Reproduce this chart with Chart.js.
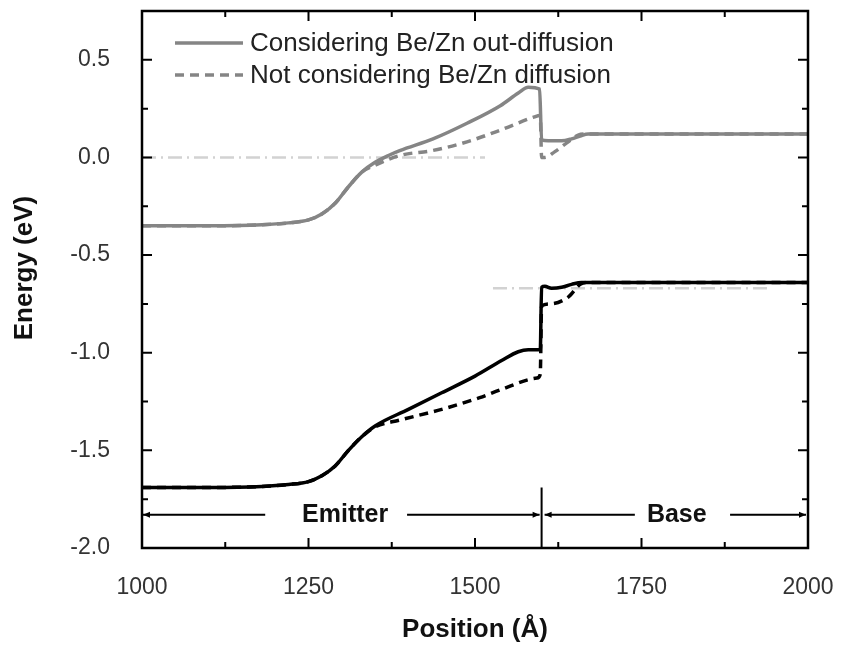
<!DOCTYPE html>
<html>
<head>
<meta charset="utf-8">
<script src="https://cdn.jsdelivr.net/npm/chart.js@4"></script>
<style>
  html, body { margin: 0; padding: 0; background: #fff; }
  #wrap { width: 844px; height: 650px; }
</style>
</head>
<body>
<div id="wrap"><canvas id="bandChart" width="844" height="650"></canvas></div>
<script>
// conduction band, Be/Zn out-diffusion considered
const cbOutX = [1000, 1100, 1180, 1220, 1250, 1270, 1290, 1310, 1330, 1350, 1370, 1387, 1437, 1488, 1538, 1565, 1580, 1597, 1600, 1610, 1630, 1645, 1658, 1670, 2000];
const cbOutY = [-0.35, -0.35, -0.345, -0.335, -0.32, -0.29, -0.235, -0.15, -0.075, -0.025, 0.01, 0.035, 0.095, 0.175, 0.265, 0.33, 0.36, 0.35, 0.09, 0.085, 0.085, 0.095, 0.11, 0.12, 0.12];
// conduction band, no diffusion
const cbNoX = [1000, 1100, 1180, 1220, 1250, 1270, 1290, 1310, 1330, 1350, 1387, 1437, 1488, 1538, 1587, 1598, 1600, 1605, 1620, 1640, 1655, 1665, 2000];
const cbNoY = [-0.35, -0.35, -0.345, -0.335, -0.32, -0.29, -0.235, -0.15, -0.075, -0.04, 0.01, 0.036, 0.08, 0.14, 0.205, 0.215, 0.0, 0.0, 0.03, 0.08, 0.115, 0.12, 0.12];
// valence band, out-diffusion considered
const vbOutX = [1000, 1100, 1180, 1220, 1250, 1270, 1290, 1310, 1330, 1350, 1400, 1450, 1500, 1540, 1565, 1580, 1598, 1600, 1605, 1615, 1630, 1645, 1660, 1700, 2000];
const vbOutY = [-1.69, -1.69, -1.685, -1.675, -1.66, -1.63, -1.58, -1.5, -1.43, -1.375, -1.29, -1.205, -1.12, -1.04, -0.995, -0.985, -0.985, -0.665, -0.66, -0.67, -0.665, -0.65, -0.64, -0.64, -0.64];
// valence band, no diffusion
const vbNoX = [1000, 1100, 1180, 1220, 1250, 1270, 1290, 1310, 1330, 1350, 1387, 1450, 1507, 1538, 1593, 1598, 1600, 1613, 1640, 1658, 1670, 2000];
const vbNoY = [-1.69, -1.69, -1.685, -1.675, -1.66, -1.63, -1.58, -1.5, -1.43, -1.38, -1.345, -1.29, -1.23, -1.19, -1.13, -1.11, -0.76, -0.75, -0.715, -0.65, -0.64, -0.64];
// quasi-Fermi levels (dash-dot)
const fermiEX = [1000, 1515];
const fermiEY = [0.0, 0.0];
const fermiBX = [1527, 1943];
const fermiBY = [-0.67, -0.67];

const legendLabels = ['Considering Be/Zn out-diffusion', 'Not considering Be/Zn diffusion'];
const xTicks = [1000, 1250, 1500, 1750, 2000];
const yTicks = [-2.0, -1.5, -1.0, -0.5, 0.0, 0.5];
const regionLabels = ['Emitter', 'Base'];
const junction = 1600;

const GRAY = '#858585';
const LIGHT = '#d2d2d2';
const FONT = '"Liberation Sans", Arial, sans-serif';

function pts(xs, ys) {
  return xs.map((x, i) => ({ x: x, y: ys[i] }));
}

function arrowHead(ctx, x, y, dir) {
  ctx.beginPath();
  ctx.moveTo(x, y);
  ctx.lineTo(x - dir * 7, y - 3);
  ctx.lineTo(x - dir * 7, y + 3);
  ctx.closePath();
  ctx.fill();
}

const decor = {
  id: 'decor',
  afterDraw(chart) {
    const ctx = chart.ctx;
    const a = chart.chartArea;
    const xs = chart.scales.x, ys = chart.scales.y;
    ctx.save();

    // frame
    ctx.strokeStyle = '#000';
    ctx.lineWidth = 2.5;
    ctx.strokeRect(a.left, a.top, a.right - a.left, a.bottom - a.top);

    // inward ticks, all four sides
    ctx.lineWidth = 2;
    ctx.beginPath();
    for (let v = 1000; v <= 2000; v += 125) {
      const px = xs.getPixelForValue(v);
      const len = (v % 250 === 0) ? 10 : 6;
      ctx.moveTo(px, a.bottom); ctx.lineTo(px, a.bottom - len);
      ctx.moveTo(px, a.top); ctx.lineTo(px, a.top + len);
    }
    for (let v = -2.0; v <= 0.76; v += 0.25) {
      const py = ys.getPixelForValue(v);
      const len = (Math.abs(v * 2 - Math.round(v * 2)) < 1e-6) ? 10 : 6;
      ctx.moveTo(a.left, py); ctx.lineTo(a.left + len, py);
      ctx.moveTo(a.right, py); ctx.lineTo(a.right - len, py);
    }
    ctx.stroke();

    // emitter / base markers
    const yA = ys.getPixelForValue(-1.83);
    const xj = xs.getPixelForValue(junction);
    ctx.lineWidth = 2;
    ctx.beginPath();
    ctx.moveTo(xj, ys.getPixelForValue(-1.69));
    ctx.lineTo(xj, a.bottom);
    ctx.moveTo(a.left + 1, yA); ctx.lineTo(xs.getPixelForValue(1185), yA);
    ctx.moveTo(xs.getPixelForValue(1398), yA); ctx.lineTo(xj - 2, yA);
    ctx.moveTo(xj + 3, yA); ctx.lineTo(xs.getPixelForValue(1740), yA);
    ctx.moveTo(xs.getPixelForValue(1883), yA); ctx.lineTo(a.right - 2, yA);
    ctx.stroke();
    ctx.fillStyle = '#000';
    arrowHead(ctx, a.left + 1, yA, -1);
    arrowHead(ctx, xj - 2, yA, 1);
    arrowHead(ctx, xj + 3, yA, -1);
    arrowHead(ctx, a.right - 2, yA, 1);

    ctx.font = 'bold 25px ' + FONT;
    ctx.fillStyle = '#111';
    ctx.textAlign = 'center';
    ctx.textBaseline = 'middle';
    ctx.fillText(regionLabels[0], xs.getPixelForValue(1305), yA);
    ctx.fillText(regionLabels[1], xs.getPixelForValue(1803), yA);

    // legend
    const ds = chart.data.datasets;
    [0, 1].forEach(i => {
      const ly = 43 + i * 32;
      ctx.strokeStyle = ds[i].borderColor;
      ctx.lineWidth = 3.5;
      ctx.setLineDash(ds[i].borderDash || []);
      ctx.beginPath();
      ctx.moveTo(175, ly); ctx.lineTo(243, ly);
      ctx.stroke();
      ctx.setLineDash([]);
      ctx.font = '26px ' + FONT;
      ctx.fillStyle = '#222';
      ctx.textAlign = 'left';
      ctx.textBaseline = 'middle';
      ctx.fillText(legendLabels[i], 250, ly + 1);
    });

    // axis titles
    ctx.font = 'bold 26px ' + FONT;
    ctx.fillStyle = '#111';
    ctx.textAlign = 'center';
    ctx.textBaseline = 'middle';
    ctx.fillText('Position (Å)', (a.left + a.right) / 2, 630);
    ctx.translate(25, 268);
    ctx.rotate(-Math.PI / 2);
    ctx.fillText('Energy (eV)', 0, 0);
    ctx.restore();
  }
};

new Chart('bandChart', {
  type: 'line',
  data: {
    datasets: [
      { data: pts(cbOutX, cbOutY), borderColor: GRAY, borderWidth: 3.5 },
      { data: pts(cbNoX, cbNoY), borderColor: GRAY, borderWidth: 3.5, borderDash: [9, 6] },
      { data: pts(vbOutX, vbOutY), borderColor: '#000', borderWidth: 3.5 },
      { data: pts(vbNoX, vbNoY), borderColor: '#000', borderWidth: 3.5, borderDash: [9, 6] },
      { data: pts(fermiEX, fermiEY), borderColor: LIGHT, borderWidth: 2.5, borderDash: [14, 5, 2, 5] },
      { data: pts(fermiBX, fermiBY), borderColor: LIGHT, borderWidth: 2.5, borderDash: [14, 5, 2, 5] }
    ]
  },
  options: {
    responsive: false,
    animation: false,
    parsing: false,
    elements: { point: { radius: 0 }, line: { cubicInterpolationMode: 'monotone', fill: false } },
    layout: { autoPadding: false, padding: { top: 11, right: 36, left: 0, bottom: 0 } },
    plugins: { legend: { display: false }, tooltip: { enabled: false } },
    scales: {
      x: {
        type: 'linear', min: 1000, max: 2000,
        afterBuildTicks: s => { s.ticks = xTicks.map(v => ({ value: v })); },
        afterFit: s => { s.height = 102; s.paddingLeft = 0; s.paddingRight = 0; },
        ticks: { padding: 26, color: '#333', font: { family: FONT, size: 23 }, maxRotation: 0, callback: v => String(v) },
        grid: { display: false, drawTicks: false },
        border: { display: false }
      },
      y: {
        type: 'linear', min: -2.0, max: 0.75,
        afterBuildTicks: s => { s.ticks = yTicks.map(v => ({ value: v })); },
        afterFit: s => { s.width = 142; s.paddingTop = 0; s.paddingBottom = 0; },
        ticks: { padding: 32, color: '#333', font: { family: FONT, size: 23 }, callback: v => v.toFixed(1) },
        grid: { display: false, drawTicks: false },
        border: { display: false }
      }
    }
  },
  plugins: [decor]
});
</script>
</body>
</html>
